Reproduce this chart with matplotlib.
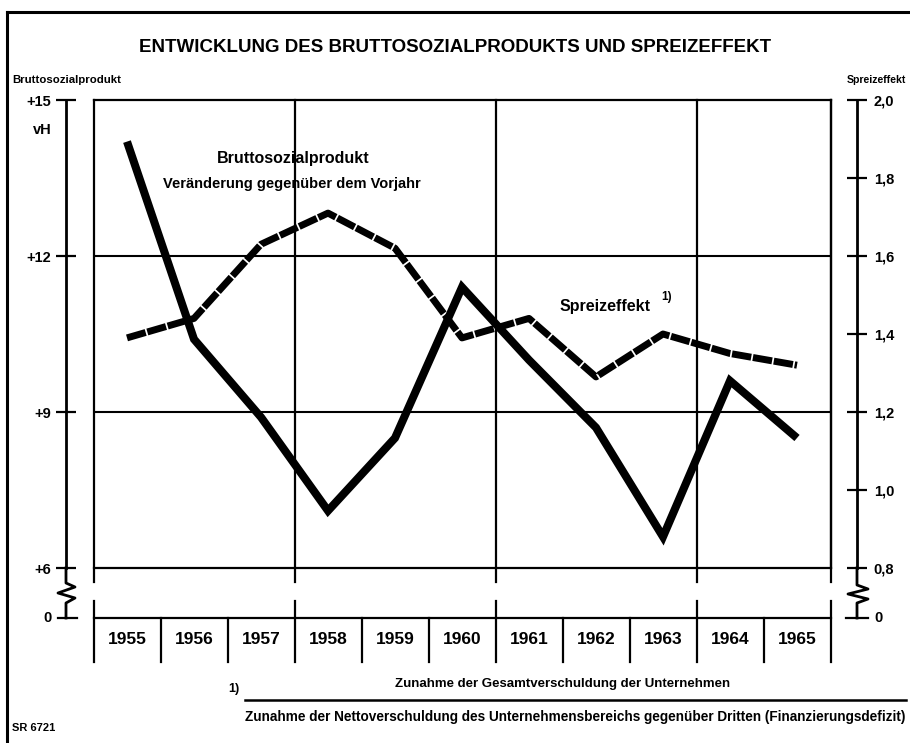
import matplotlib
matplotlib.use("Agg")
import matplotlib.pyplot as plt
import matplotlib.transforms as mtransforms
from matplotlib.lines import Line2D

# Jahreswerte 1955-1965
years = [1955, 1956, 1957, 1958, 1959, 1960, 1961, 1962, 1963, 1964, 1965]
bsp = [14.2, 10.4, 8.9, 7.1, 8.5, 11.4, 10.0, 8.7, 6.6, 9.6, 8.5]          # vH
spreiz = [1.39, 1.44, 1.63, 1.71, 1.62, 1.39, 1.44, 1.29, 1.40, 1.35, 1.32]

bsp_ticks = [6, 9, 12, 15]
bsp_ticklabels = ["+6", "+9", "+12", "+15"]
spreiz_ticks = [0.8, 1.0, 1.2, 1.4, 1.6, 1.8, 2.0]
spreiz_ticklabels = ["0,8", "1,0", "1,2", "1,4", "1,6", "1,8", "2,0"]

plt.rcParams["font.family"] = ["Liberation Sans", "DejaVu Sans"]
plt.rcParams["font.weight"] = "bold"

W, H = 910, 743
fig = plt.figure(figsize=(W / 100, H / 100), dpi=100)
fig.patch.set_facecolor("white")

# plot box in pixels
X0, X1, Y0, Y1 = 93.5, 830.5, 100, 568
ax = fig.add_axes([X0 / W, 1 - Y1 / H, (X1 - X0) / W, (Y1 - Y0) / H])
ax.set_xlim(-0.5, 10.5)
ax.set_ylim(6, 15)
ax2 = ax.twinx()
ax2.set_ylim(0.8, 2.0)


def fx(px):
    return (px - X0) / (X1 - X0)


def fy(py):
    return (Y1 - py) / (Y1 - Y0)


def figtxt(x, y, s, **kw):
    fig.text(x / W, 1 - y / H, s, **kw)


def figline(xs, ys, lw=2.0):
    fig.add_artist(Line2D([x / W for x in xs], [1 - y / H for y in ys],
                          transform=fig.transFigure, color="black", lw=lw))


def axline(xs, ys, lw=1.6):
    ax.add_line(Line2D([fx(x) for x in xs], [fy(y) for y in ys],
                       transform=ax.transAxes, color="black", lw=lw,
                       clip_on=False))


# frame and grid
for s in ["top", "right", "bottom"]:
    ax.spines[s].set_linewidth(1.6)
ax.spines["left"].set_position(("outward", 27.5 * 0.72))
ax.spines["left"].set_linewidth(2.0)
for s in ["top", "bottom", "left"]:
    ax2.spines[s].set_visible(False)
ax2.spines["right"].set_position(("outward", 26.5 * 0.72))
ax2.spines["right"].set_linewidth(2.0)

for yv in [9, 12]:
    ax.axhline(yv, color="black", lw=1.5, zorder=1)

blend = mtransforms.blended_transform_factory(ax.transData, ax.transAxes)
for xb in [-0.5, 2.5, 5.5, 8.5, 10.5]:
    ax.add_line(Line2D([xb, xb], [1, fy(582)], transform=blend, color="black",
                       lw=1.6, clip_on=False, zorder=1))
    ax.add_line(Line2D([xb, xb], [fy(601), fy(662)], transform=blend,
                       color="black", lw=1.6, clip_on=False))
for i in range(len(years) - 1):
    xb = i + 0.5
    if xb in (2.5, 5.5, 8.5):
        continue
    ax.add_line(Line2D([xb, xb], [fy(618), fy(662)], transform=blend,
                       color="black", lw=1.6, clip_on=False))
ax.add_line(Line2D([-0.5, 10.5], [fy(618), fy(618)], transform=blend,
                   color="black", lw=1.6, clip_on=False))

# data lines
ax.plot(range(len(years)), bsp, color="black", lw=5.8,
        solid_joinstyle="miter", solid_capstyle="butt", zorder=4)
ax2.plot(range(len(years)), spreiz, color="black", lw=5.0,
         linestyle=(0, (2.8, 0.25)), dash_joinstyle="round",
         dash_capstyle="butt", zorder=4)

# axes ticks
ax.set_xticks(range(len(years)))
ax.set_xticklabels([str(y) for y in years])
ax.tick_params(axis="x", length=0, pad=46, labelsize=12.5)
ax.set_yticks(bsp_ticks)
ax.set_yticklabels(bsp_ticklabels)
ax.tick_params(axis="y", direction="inout", length=14.4, width=1.6,
               pad=3.6, labelsize=10.5)
ax2.set_yticks(spreiz_ticks)
ax2.set_yticklabels(spreiz_ticklabels)
ax2.tick_params(axis="y", direction="inout", length=15, width=1.6,
                pad=4.5, labelsize=10.5)

# broken scales down to zero
axline([66, 66, 75, 58, 75, 66, 66], [568, 583, 587, 593, 598, 603, 618], lw=2.0)
axline([58, 77], [618, 618], lw=1.6)
axline([857, 857, 868, 848, 868, 857, 857], [568, 585, 589, 594, 599, 603, 618], lw=2.0)
axline([846, 868], [618, 618], lw=1.6)
figtxt(52, 618, "0", ha="right", va="center", fontsize=10.5)
figtxt(874, 618, "0", ha="left", va="center", fontsize=10.5)

# labels
figtxt(455, 48, "ENTWICKLUNG DES BRUTTOSOZIALPRODUKTS UND SPREIZEFFEKT",
       ha="center", va="center", fontsize=13.5)
figtxt(12, 80, "Bruttosozialprodukt", ha="left", va="center", fontsize=8.2)
figtxt(906, 80, "Spreizeffekt", ha="right", va="center", fontsize=7.6)
figtxt(42, 130, "vH", ha="center", va="center", fontsize=10.5)
figtxt(293, 159, "Bruttosozialprodukt", ha="center", va="center", fontsize=11.5)
figtxt(292, 184, "Veränderung gegenüber dem Vorjahr", ha="center",
       va="center", fontsize=10.5)
figtxt(560, 306, "Spreizeffekt", ha="left", va="center", fontsize=11.5)
figtxt(661, 297, "1)", ha="left", va="center", fontsize=8.5)

# footnote
figtxt(228, 689, "1)", ha="left", va="center", fontsize=9)
figtxt(563, 684, "Zunahme der Gesamtverschuldung der Unternehmen",
       ha="center", va="center", fontsize=9.5)
figline([245, 906], [700, 700], lw=1.8)
figtxt(575, 717, "Zunahme der Nettoverschuldung des Unternehmensbereichs "
       "gegenüber Dritten (Finanzierungsdefizit)",
       ha="center", va="center", fontsize=9.8)
figtxt(12, 728, "SR 6721", ha="left", va="center", fontsize=8)

# outer border (top and left)
figline([7, 910], [12, 12], lw=2.2)
figline([7, 7], [12, 743], lw=2.2)

fig.savefig("out.png", dpi=100)
